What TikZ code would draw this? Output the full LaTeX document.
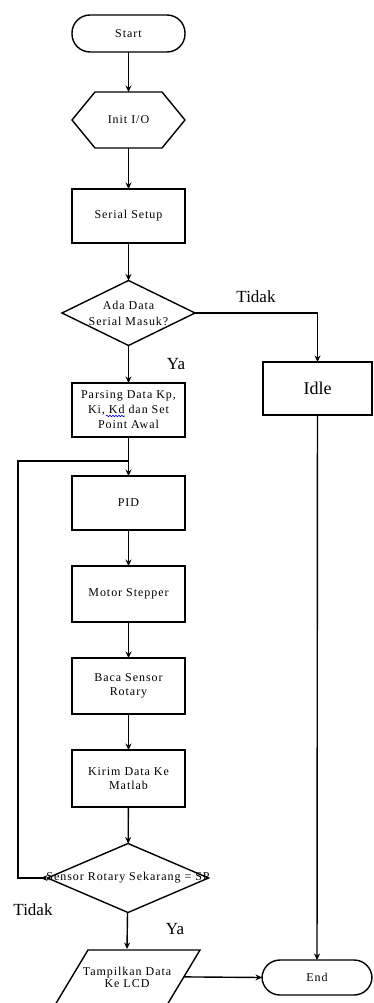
\documentclass[tikz,border=0pt]{standalone}
\usepackage{fontspec}
\setmainfont{Liberation Serif}
\newfontfamily\bxfont[LetterSpace=8]{Liberation Serif}
\usetikzlibrary{shapes.geometric,arrows.meta,calc,decorations.pathmorphing}
\tikzset{
  every node/.style={inner sep=0pt, outer sep=0pt},
  ln/.style={line width=1.4pt, draw=black},
  arr/.style={ln, -{Stealth[length=6.5pt,width=6pt]}},
  txt/.style={font=\bxfont\fontsize{12}{15}\selectfont, align=center},
  proc/.style={ln, draw, rectangle, minimum width=113, minimum height=54, txt},
  term/.style={ln, draw, rectangle, rounded corners=18pt, minimum width=113, minimum height=37, txt},
  dec/.style={ln, draw, diamond, minimum width=133, minimum height=65, txt},
  lbl/.style={font=\fontsize{17}{20}\selectfont}
}
\begin{document}
\begin{tikzpicture}[x=1pt,y=-1pt]
\useasboundingbox (0,0) rectangle (373,1003);
\clip (0,0) rectangle (373,1003);
\fill[white] (0,0) rectangle (373,1003);

\node[term] (start) at (128.5,33.5) {Start};
\node[txt, minimum width=113, minimum height=56] (init) at (128.5,120) {Init I/O};
\draw[ln] (init.west) -- ($(init.north west)+(23,0)$) -- ($(init.north east)+(-23,0)$) -- (init.east)
  -- ($(init.south east)+(-23,0)$) -- ($(init.south west)+(23,0)$) -- cycle;
\node[proc] (serial) at (128.5,216) {Serial Setup};
\node[dec] (d1) at (128.5,313) {};
\node[txt, font=\bxfont\fontsize{12}{16}\selectfont] at (d1) {Ada Data\\Serial Masuk?};
\node[proc, minimum width=109, minimum height=53, font=\fontsize{18}{20}\selectfont] (idle) at (317.5,388.5) {Idle};
\node[proc] (parse) at (128.5,410) {Parsing Data Kp,\\Ki, Kd dan Set\\Point Awal};
\node[proc] (pid) at (128.5,503) {PID};
\node[proc, minimum height=56] (motor) at (128.5,594) {Motor Stepper};
\node[proc, minimum height=56, font=\bxfont\fontsize{12}{14}\selectfont] (baca) at (128.5,686) {Baca Sensor\\Rotary};
\node[proc, minimum height=57, font=\bxfont\fontsize{12}{14}\selectfont] (kirim) at (128.5,778.5) {Kirim Data Ke\\Matlab};
\node[ln, draw, diamond, minimum width=161, minimum height=69] (d2) at (128,878) {};
\node[txt] at (d2) {Sensor Rotary Sekarang = SP};
\node[txt, minimum width=112, minimum height=56, font=\bxfont\fontsize{12}{12}\selectfont] (tamp) at (127,977) {Tampilkan Data\\Ke LCD};
\coordinate (tnw) at (88,950);
\coordinate (tne) at (200,950);
\coordinate (tse) at (166.4,1006);
\coordinate (tsw) at (54.4,1006);
\draw[ln] (tnw) -- (tne) -- (tse) -- (tsw) -- cycle;
\coordinate (tmidr) at ($(tne)!0.48!(tse)$);
\node[term, minimum width=110, minimum height=35] (end) at (317,977.5) {End};

% blue spell-check squiggle
\draw[blue, line width=0.6pt, decorate, decoration={snake, amplitude=0.8pt, segment length=3pt}] (106,416) -- (125,416);

% connectors
\draw[arr] (start) -- (init);
\draw[arr] (init) -- (serial);
\draw[arr] (serial) -- (d1);
\draw[arr] (d1.east) -| (idle.north);
\draw[arr] (d1) -- (parse);
\draw[arr] (parse) -- (pid);
\coordinate (loopb) at (18,878);
\coordinate (loopt) at (18,461);
\coordinate (join) at (128.5,461);
\draw[ln, {Stealth[length=6.5pt,width=6pt,reversed]}-] (d2.west) -- (loopb) -- (loopt) -- (join);
\draw[arr] (pid) -- (motor);
\draw[arr] (motor) -- (baca);
\draw[arr] (baca) -- (kirim);
\draw[arr] (kirim) -- (d2);
\draw[arr] (d2) -- (tamp.north);
\draw[arr] (tmidr) -- (end.west);
\draw[arr] (idle) -- (end);

% labels
\node[lbl] (t1) at (256,297) {Tidak};
\node[lbl] (y1) at (176,364) {Ya};
\node[lbl] (t2) at (33,910) {Tidak};
\node[lbl] (y2) at (175,929) {Ya};
\end{tikzpicture}
\end{document}
